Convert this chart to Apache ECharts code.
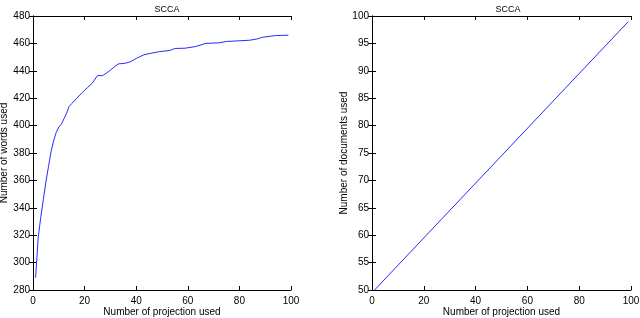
<!DOCTYPE html>
<html><head><meta charset="utf-8">
<script src="https://cdn.jsdelivr.net/npm/echarts@6/dist/echarts.min.js"></script>
<style>html,body{margin:0;padding:0;background:#fff}#c{width:640px;height:318px}</style>
</head><body><div id="c"></div>
<script>
// Left panel: number of words used vs number of projections
const wordsX = [1, 2, 3, 4, 5, 6, 7, 8, 9, 10, 11, 12, 13, 14, 15, 17, 19, 21, 23, 25, 27, 29, 31, 33, 36, 38, 40, 43, 46, 49, 53, 55, 59, 63, 67, 72, 75, 79, 84, 87, 89, 94, 99];
const wordsY = [289, 318, 333, 346, 359, 370, 381, 389, 395, 399, 401, 405, 409, 414, 416, 420, 424, 427.5, 431, 436.5, 436.5, 439, 442, 445, 445.6, 446.8, 449, 451.7, 452.9, 454, 454.8, 456.3, 456.5, 457.7, 460, 460.4, 461.4, 461.8, 462.3, 463.3, 464.5, 465.7, 466];
// Right panel: number of documents used vs number of projections (straight line)
const docsX = [1, 99];
const docsY = [50, 99];
const titles = ['SCCA', 'SCCA'];
const xName = 'Number of projection used';
const yNames = ['Number of words used', 'Number of documents used'];

const font = 'Liberation Sans, Arial, sans-serif';
const txt = {color: '#000', fontSize: 10, fontFamily: font};
function mainX(gi) {
  return {gridIndex: gi, type: 'value', min: 0, max: 100, interval: 20, position: 'bottom',
    name: xName, nameLocation: 'middle', nameGap: 17, nameMoveOverlap: false, nameTextStyle: txt,
    axisLine: {lineStyle: {color: '#000', width: 1}}, axisTick: {inside: true, length: 4, lineStyle: {color: '#000'}},
    axisLabel: Object.assign({margin: 6}, txt), splitLine: {show: false}};
}
function boxX(gi) {
  return {gridIndex: gi, type: 'value', min: 0, max: 100, interval: 20, position: 'top',
    axisLine: {lineStyle: {color: '#000', width: 1}}, axisTick: {inside: true, length: 4, lineStyle: {color: '#000'}},
    axisLabel: {show: false}, splitLine: {show: false}};
}
function mainY(gi, min, max, interval, name, gap) {
  return {gridIndex: gi, type: 'value', min, max, interval, position: 'left',
    name, nameLocation: 'middle', nameGap: gap, nameMoveOverlap: false, nameTextStyle: txt,
    axisLine: {show: true, lineStyle: {color: '#000', width: 1}}, axisTick: {show: true, inside: true, length: 4, lineStyle: {color: '#000'}},
    axisLabel: Object.assign({margin: 3}, txt), splitLine: {show: false}};
}
function boxY(gi, min, max, interval) {
  return {gridIndex: gi, type: 'value', min, max, interval, position: 'right',
    axisLine: {show: true, lineStyle: {color: '#000', width: 1}}, axisTick: {show: true, inside: true, length: 4, lineStyle: {color: '#000'}},
    axisLabel: {show: false}, splitLine: {show: false}};
}
const chart = echarts.init(document.getElementById('c'));
chart.setOption({
  animation: false,
  backgroundColor: '#fff',
  title: [
    {text: titles[0], left: 162, top: 0, textAlign: 'center', textStyle: {fontSize: 9, fontWeight: 'normal', color: '#000', fontFamily: font}},
    {text: titles[1], left: 503, top: 0, textAlign: 'center', textStyle: {fontSize: 9, fontWeight: 'normal', color: '#000', fontFamily: font}}
  ],
  grid: [
    {left: 33, right: 349, top: 16, bottom: 28, containLabel: false, outerBoundsMode: 'none'},
    {left: 372, right: 9, top: 16, bottom: 28, containLabel: false, outerBoundsMode: 'none'}
  ],
  xAxis: [mainX(0), boxX(0), mainX(1), boxX(1)],
  yAxis: [mainY(0, 280, 480, 20, yNames[0], 24), boxY(0, 280, 480, 20),
          mainY(1, 50, 100, 5, yNames[1], 23), boxY(1, 50, 100, 5)],
  series: [
    {type: 'line', xAxisIndex: 0, yAxisIndex: 0, data: wordsX.map((x, i) => [x, wordsY[i]]),
      showSymbol: false, lineStyle: {color: '#2a2aff', width: 1}},
    {type: 'line', xAxisIndex: 2, yAxisIndex: 2, data: docsX.map((x, i) => [x, docsY[i]]),
      showSymbol: false, lineStyle: {color: '#2a2aff', width: 1}}
  ]
});
</script></body></html>
